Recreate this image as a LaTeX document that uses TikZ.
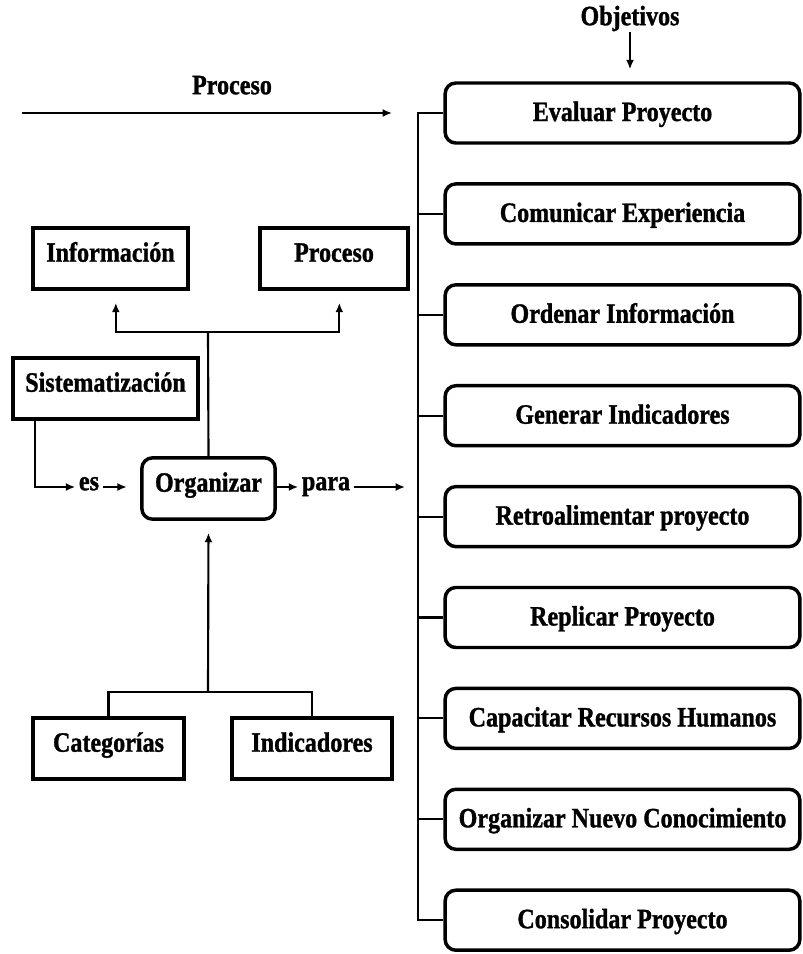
\documentclass[tikz,border=0pt]{standalone}
\usepackage{fontspec}
\setmainfont{Liberation Serif}[FakeStretch=0.86, FakeBold=1.2]
\usetikzlibrary{arrows.meta, positioning}

\begin{document}
\begin{tikzpicture}[
  x=0.75pt, y=-0.75pt,
  every node/.style={font=\fontsize{21}{24}\selectfont\bfseries, text height=0.68em, text depth=0.2em},
  sq/.style={draw, line width=2.6pt, minimum height=46pt, inner sep=2pt},
  rnd/.style={draw, line width=2.6pt, rounded corners=8pt, minimum height=46pt, inner sep=2pt},
  objbox/.style={rnd, minimum width=266pt, minimum height=45pt, text height=1.2em, text depth=0em},
  lbl/.style={inner sep=2pt},
  arr/.style={-{Latex[length=7pt, width=6pt]}},
  line width=1.6pt
]
  \useasboundingbox (0,0) rectangle (803,954);

  % left part
  \node[sq, minimum width=116pt] (info) at (110.5,258.5) {Información};
  \node[sq, minimum width=111pt] (proc) at (334,258.5) {Proceso};
  \node[sq, minimum width=139pt] (sis) at (105.5,388.5) {Sistematización};
  \node[rnd, minimum width=100pt] (org) at (208.5,488.5) {Organizar};
  \node[sq, minimum width=113pt] (cat) at (108.5,748.5) {Categorías};
  \node[sq, minimum width=120pt] (ind) at (312,748.5) {Indicadores};
  \node[lbl] (es) at (89,487) {es};
  \node[lbl] (para) at (326,487) {para};

  % objectives
  \node[lbl] (obj) at (630,22) {Objetivos};
  \foreach \i/\txt in {1/Evaluar Proyecto, 2/Comunicar Experiencia, 3/Ordenar Información,
      4/Generar Indicadores, 5/Retroalimentar proyecto, 6/Replicar Proyecto,
      7/Capacitar Recursos Humanos, 8/Organizar Nuevo Conocimiento, 9/Consolidar Proyecto}
    \node[objbox] (o\i) at (622.5, {113+100.9*(\i-1)}) {\txt};

  % process arrow on top
  \coordinate (pa) at (22,113);
  \coordinate (pb) at (392,113);
  \draw[arr] (pa) -- (pb);
  \node[lbl] (ptxt) at (232,91) {Proceso};
  \draw[arr, shorten >=9pt] (obj.south) -- (obj.south |- o1.north);

  % trunk to objectives
  \coordinate (trunk) at (418,113);
  \draw (o1.west) -- (trunk) |- (o9.west);
  \foreach \i in {2,...,8}
    \draw (o\i.west) -- (trunk |- o\i.west);

  % upper branch
  \coordinate (upj) at (208,332);
  \draw (org.north) -- (upj);
  \draw[arr, shorten >=9pt] (upj) -| ([xshift=4pt]info.south);
  \draw[arr, shorten >=9pt] (upj) -| ([xshift=4pt]proc.south);

  % es / para
  \draw[arr] ([xshift=18pt]sis.south west) |- (es.west);
  \draw[arr, shorten >=10pt] (es.east) -- (org.west |- es.east);
  \draw[arr] (org.east |- para.west) -- (para.west);
  \coordinate (pend) at (405,487);
  \draw[arr] (para.east) -- (pend);

  % lower branch
  \coordinate (downj) at (208,692);
  \draw[arr, shorten >=9pt] (downj) -- (org.south);
  \draw (cat.north) |- (downj) -| (ind.north);
\end{tikzpicture}
\end{document}
